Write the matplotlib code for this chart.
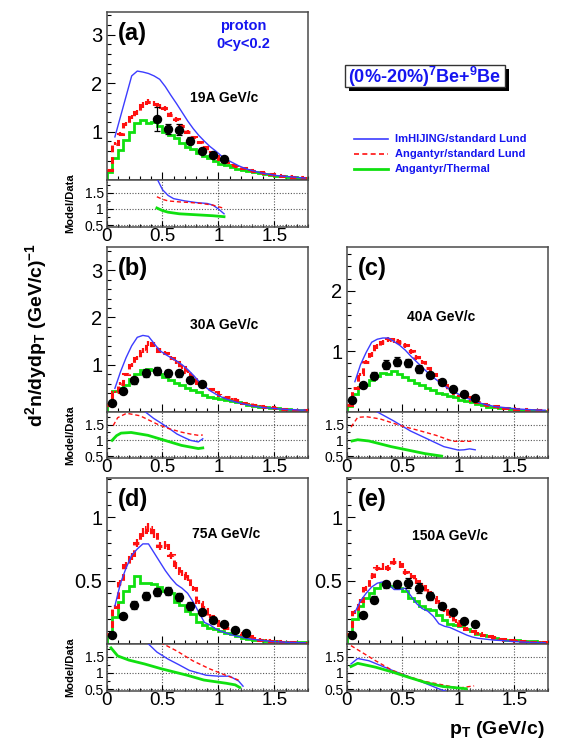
import numpy as np
import matplotlib
matplotlib.use('Agg')
import matplotlib.pyplot as plt
from matplotlib.lines import Line2D
from matplotlib.patches import Rectangle
from matplotlib.ticker import MultipleLocator, FixedLocator, FixedFormatter

plt.rcParams['font.family'] = ['Liberation Sans', 'DejaVu Sans']
plt.rcParams['mathtext.fontset'] = 'custom'
plt.rcParams['mathtext.rm'] = 'Liberation Sans'
plt.rcParams['mathtext.bf'] = 'Liberation Sans:bold'
plt.rcParams['mathtext.it'] = 'Liberation Sans:italic'

# ---------------- data ----------------
bin_edges = np.round(np.arange(0, 1.8001, 0.05), 3)          # model histogram bins
bin_centers = (bin_edges[:-1] + bin_edges[1:]) / 2
blue_x = bin_centers[1:]                                      # ImHIJING curve points

# (a) 19A GeV/c
a_data_x = [0.45, 0.55, 0.65, 0.75, 0.85, 0.95, 1.05]
a_data_y = [1.26, 1.06, 1.04, 0.81, 0.60, 0.52, 0.43]
a_data_e = [0.25, 0.10, 0.12, 0.07, 0.05, 0.04, 0.04]
a_green = [0.17, 0.45, 0.62, 0.83, 1.00, 1.17, 1.23, 1.17, 1.20, 1.12, 1.00, 0.93, 0.86, 0.77, 0.69, 0.63,
           0.55, 0.50, 0.45, 0.40, 0.34, 0.31, 0.26, 0.22, 0.20, 0.18, 0.16, 0.14, 0.12, 0.10, 0.09, 0.08,
           0.07, 0.06, 0.05, 0.045]
a_red = [0.20, 0.75, 0.95, 1.15, 1.30, 1.40, 1.55, 1.62, 1.58, 1.52, 1.48, 1.35, 1.25, 1.12, 1.00, 0.88,
         0.78, 0.68, 0.58, 0.50, 0.44, 0.37, 0.32, 0.28, 0.24, 0.21, 0.18, 0.16, 0.14, 0.12, 0.10, 0.09,
         0.08, 0.07, 0.06, 0.05]
a_blue = [0.89, 1.31, 1.73, 2.15, 2.25, 2.23, 2.20, 2.15, 2.08, 1.93, 1.75, 1.58, 1.40, 1.22, 1.06, 0.92,
          0.80, 0.69, 0.60, 0.50, 0.42, 0.36, 0.30, 0.25, 0.21, 0.18, 0.15, 0.13, 0.11, 0.09, 0.08, 0.07,
          0.06, 0.05, 0.04]
a_rb_x = [0.45, 0.50, 0.55, 0.60, 0.70, 0.80, 0.90, 0.95, 1.00, 1.05]
a_rb_y = [1.95, 1.60, 1.42, 1.32, 1.25, 1.20, 1.17, 1.12, 1.00, 0.85]
a_rr_x = [0.45, 0.50, 0.55, 0.65, 0.75, 0.85, 0.95, 1.05]
a_rr_y = [1.38, 1.30, 1.25, 1.22, 1.20, 1.17, 1.12, 1.02]
a_rg_x = [0.45, 0.50, 0.55, 0.65, 0.75, 0.85, 0.95, 1.05]
a_rg_y = [1.03, 0.95, 0.90, 0.85, 0.83, 0.81, 0.79, 0.76]

# (b) 30A GeV/c
b_data_x = [0.05, 0.15, 0.25, 0.35, 0.45, 0.55, 0.65, 0.75, 0.85]
b_data_y = [0.20, 0.45, 0.67, 0.82, 0.87, 0.82, 0.82, 0.68, 0.59]
b_data_e = [0.04, 0.05, 0.07, 0.09, 0.08, 0.07, 0.07, 0.05, 0.05]
b_green = [0.15, 0.45, 0.50, 0.58, 0.70, 0.80, 0.88, 0.90, 0.88, 0.80, 0.74, 0.68, 0.62, 0.57, 0.50, 0.46,
           0.42, 0.36, 0.32, 0.30, 0.28, 0.26, 0.24, 0.21, 0.18, 0.15, 0.13, 0.11, 0.10, 0.09, 0.08, 0.07,
           0.06, 0.05, 0.04, 0.04]
b_red = [0.15, 0.42, 0.60, 0.80, 1.00, 1.15, 1.30, 1.45, 1.42, 1.30, 1.25, 1.15, 1.05, 0.95, 0.85, 0.75,
         0.62, 0.55, 0.48, 0.42, 0.37, 0.32, 0.28, 0.25, 0.20, 0.18, 0.15, 0.13, 0.11, 0.10, 0.08, 0.07,
         0.06, 0.05, 0.04, 0.04]
b_blue = [0.50, 0.85, 1.15, 1.40, 1.58, 1.62, 1.60, 1.45, 1.30, 1.22, 1.15, 1.08, 1.00, 0.90, 0.78, 0.65,
          0.55, 0.45, 0.38, 0.32, 0.27, 0.23, 0.20, 0.17, 0.14, 0.12, 0.10, 0.09, 0.08, 0.07, 0.06, 0.05,
          0.05, 0.04, 0.04]
b_rb_x = [0.33, 0.42, 0.50, 0.57, 0.63, 0.70, 0.75, 0.82, 0.86]
b_rb_y = [1.95, 1.70, 1.52, 1.35, 1.20, 1.08, 1.00, 0.95, 1.05]
b_rr_x = [0.06, 0.10, 0.18, 0.30, 0.45, 0.55, 0.67, 0.75, 0.82, 0.86]
b_rr_y = [1.47, 1.72, 1.86, 1.78, 1.52, 1.38, 1.26, 1.20, 1.16, 1.17]
b_rg_x = [0.05, 0.09, 0.13, 0.22, 0.37, 0.52, 0.67, 0.82, 0.86]
b_rg_y = [1.00, 1.15, 1.23, 1.25, 1.16, 1.00, 0.84, 0.74, 0.76]

# (c) 40A GeV/c
c_data_x = [0.05, 0.15, 0.25, 0.35, 0.45, 0.55, 0.65, 0.75, 0.85, 0.95, 1.05, 1.15]
c_data_y = [0.19, 0.44, 0.60, 0.78, 0.83, 0.81, 0.71, 0.61, 0.49, 0.38, 0.29, 0.23]
c_data_e = [0.04, 0.04, 0.06, 0.07, 0.07, 0.06, 0.06, 0.05, 0.04, 0.03, 0.03, 0.03]
c_green = [0.10, 0.30, 0.42, 0.45, 0.52, 0.60, 0.65, 0.63, 0.67, 0.63, 0.57, 0.52, 0.48, 0.45, 0.40, 0.36,
           0.32, 0.30, 0.27, 0.24, 0.20, 0.18, 0.16, 0.13, 0.11, 0.09, 0.08, 0.07, 0.06, 0.05, 0.04, 0.035,
           0.03, 0.025, 0.02, 0.02]
c_red = [0.12, 0.40, 0.62, 0.82, 0.95, 1.08, 1.15, 1.20, 1.18, 1.15, 1.10, 1.00, 0.90, 0.82, 0.72, 0.62,
         0.52, 0.45, 0.38, 0.32, 0.28, 0.24, 0.20, 0.17, 0.14, 0.12, 0.10, 0.08, 0.07, 0.06, 0.05, 0.045,
         0.04, 0.035, 0.03, 0.03]
c_blue = [0.50, 0.78, 0.98, 1.15, 1.20, 1.22, 1.22, 1.16, 1.10, 1.02, 0.92, 0.83, 0.74, 0.65, 0.57, 0.50,
          0.43, 0.37, 0.32, 0.27, 0.23, 0.19, 0.16, 0.13, 0.11, 0.09, 0.08, 0.07, 0.06, 0.05, 0.045, 0.04,
          0.035, 0.03, 0.03]
c_rb_x = [0.25, 0.42, 0.57, 0.72, 0.87, 1.00, 1.05, 1.10, 1.15]
c_rb_y = [1.95, 1.62, 1.30, 1.05, 0.80, 0.69, 0.70, 0.73, 0.70]
c_rr_x = [0.04, 0.10, 0.18, 0.30, 0.50, 0.65, 0.80, 0.95, 1.13]
c_rr_y = [1.42, 1.73, 1.75, 1.68, 1.45, 1.31, 1.16, 0.97, 0.97]
c_rg_x = [0.05, 0.10, 0.20, 0.40, 0.55, 0.70, 0.85]
c_rg_y = [0.98, 1.02, 0.98, 0.80, 0.69, 0.58, 0.50]

# (d) 75A GeV/c
d_data_x = [0.05, 0.15, 0.25, 0.35, 0.45, 0.55, 0.65, 0.75, 0.85, 0.95, 1.05, 1.15, 1.25]
d_data_y = [0.07, 0.22, 0.31, 0.38, 0.41, 0.42, 0.37, 0.30, 0.25, 0.19, 0.155, 0.11, 0.085]
d_data_e = [0.015, 0.02, 0.03, 0.03, 0.03, 0.03, 0.03, 0.03, 0.02, 0.02, 0.015, 0.015, 0.015]
d_green = [0.06, 0.21, 0.33, 0.42, 0.46, 0.54, 0.48, 0.48, 0.47, 0.45, 0.42, 0.40, 0.33, 0.31, 0.26, 0.24,
           0.17, 0.15, 0.13, 0.12, 0.10, 0.09, 0.075, 0.065, 0.05, 0.04, 0.035, 0.03, 0.025, 0.022, 0.02,
           0.018, 0.016, 0.015, 0.013, 0.012]
d_red = [0.08, 0.29, 0.48, 0.62, 0.69, 0.80, 0.88, 0.92, 0.87, 0.77, 0.78, 0.70, 0.62, 0.56, 0.52, 0.44,
         0.33, 0.28, 0.22, 0.18, 0.15, 0.13, 0.11, 0.09, 0.075, 0.06, 0.045, 0.035, 0.03, 0.025, 0.02,
         0.018, 0.015, 0.012, 0.01, 0.01]
d_blue = [0.30, 0.48, 0.60, 0.70, 0.75, 0.79, 0.79, 0.72, 0.65, 0.58, 0.52, 0.47, 0.44, 0.40, 0.33, 0.25,
          0.17, 0.15, 0.12, 0.10, 0.085, 0.07, 0.06, 0.05, 0.04, 0.035, 0.03, 0.025, 0.02, 0.018, 0.015,
          0.013, 0.012, 0.01, 0.01]
d_rb_x = [0.36, 0.45, 0.55, 0.65, 0.74, 0.89, 1.00, 1.10, 1.18, 1.22]
d_rb_y = [1.95, 1.65, 1.43, 1.25, 1.08, 0.93, 0.90, 0.90, 0.75, 0.59]
d_rr_x = [0.48, 0.63, 0.77, 0.92, 1.05, 1.18]
d_rr_y = [1.95, 1.68, 1.38, 1.13, 0.95, 0.78]
d_rg_x = [0.04, 0.10, 0.20, 0.34, 0.49, 0.72, 0.87, 1.07, 1.15, 1.19]
d_rg_y = [1.78, 1.53, 1.40, 1.28, 1.13, 0.93, 0.78, 0.68, 0.63, 0.55]

# (e) 150A GeV/c
e_data_x = [0.05, 0.15, 0.25, 0.35, 0.45, 0.55, 0.65, 0.75, 0.85, 0.95, 1.05, 1.15]
e_data_y = [0.07, 0.23, 0.35, 0.47, 0.47, 0.48, 0.44, 0.38, 0.30, 0.25, 0.18, 0.155]
e_data_e = [0.015, 0.02, 0.03, 0.03, 0.03, 0.04, 0.04, 0.03, 0.02, 0.015, 0.015, 0.015]
e_green = [0.08, 0.20, 0.30, 0.36, 0.40, 0.44, 0.48, 0.46, 0.46, 0.44, 0.42, 0.36, 0.34, 0.30, 0.28, 0.27,
           0.23, 0.19, 0.16, 0.15, 0.14, 0.12, 0.10, 0.08, 0.07, 0.06, 0.05, 0.04, 0.035, 0.03, 0.028,
           0.025, 0.022, 0.02, 0.018, 0.015]
e_red = [0.08, 0.25, 0.34, 0.44, 0.54, 0.60, 0.61, 0.60, 0.65, 0.63, 0.57, 0.54, 0.50, 0.46, 0.41, 0.37,
         0.33, 0.27, 0.22, 0.18, 0.15, 0.12, 0.10, 0.085, 0.07, 0.06, 0.05, 0.04, 0.035, 0.03, 0.025,
         0.02, 0.018, 0.016, 0.014, 0.012]
e_blue = [0.25, 0.34, 0.40, 0.45, 0.48, 0.49, 0.47, 0.43, 0.43, 0.44, 0.38, 0.32, 0.28, 0.26, 0.22, 0.16,
          0.14, 0.13, 0.11, 0.09, 0.07, 0.055, 0.045, 0.04, 0.035, 0.03, 0.028, 0.025, 0.02, 0.018, 0.015,
          0.013, 0.012, 0.011, 0.01]
e_rb_x = [0.04, 0.10, 0.20, 0.41, 0.56, 0.71, 0.83, 0.90]
e_rb_y = [1.28, 1.45, 1.38, 1.08, 0.88, 0.67, 0.50, 0.42]
e_rr_x = [0.04, 0.26, 0.41, 0.56, 0.71, 0.86, 1.00, 1.14]
e_rr_y = [1.85, 1.38, 1.08, 0.88, 0.73, 0.63, 0.53, 0.60]
e_rg_x = [0.04, 0.10, 0.26, 0.41, 0.56, 0.71, 0.86, 1.07]
e_rg_y = [1.20, 1.30, 1.18, 1.03, 0.86, 0.70, 0.58, 0.51]

panel_labels = ['(a)', '(b)', '(c)', '(d)', '(e)']
energy_labels = ['19A GeV/c', '30A GeV/c', '40A GeV/c', '75A GeV/c', '150A GeV/c']
legend_labels = ['ImHIJING/standard Lund', 'Angantyr/standard Lund', 'Angantyr/Thermal']
xtick_vals = [0, 0.5, 1, 1.5]
xtick_text = ['0', '0.5', '1', '1.5']
ratio_ticks = [0.5, 1, 1.5]
ratio_tick_text = ['0.5', '1', '1.5']

# ---------------- style ----------------
C_BLUE = '#3c3cff'
C_RED = '#ff1010'
C_GREEN = '#10e010'
C_TXT_BLUE = '#1515f0'
FRAME = '#4a4a4a'
RED_ERR_FRAC = 0.03

W, H = 563, 746
fig = plt.figure(figsize=(W / 100, H / 100), dpi=100)


def fx(px):
    return px / W


def fy(py):
    return 1 - py / H


col_x = [106.5, 346.5]
ax_w = 201.5
rows = [(12, 180, 227), (247, 412, 458), (478, 644, 691)]

panels = [
    dict(row=0, col=0, ylim=3.47, yt=[1, 2, 3], ytl=['1', '2', '3'], ymin=0.2,
         dx=a_data_x, dy=a_data_y, de=a_data_e, g=a_green, r=a_red, b=a_blue,
         rb=(a_rb_x, a_rb_y), rr=(a_rr_x, a_rr_y), rg=(a_rg_x, a_rg_y), epos=(0.414, 0.488)),
    dict(row=1, col=0, ylim=3.49, yt=[1, 2, 3], ytl=['1', '2', '3'], ymin=0.2,
         dx=b_data_x, dy=b_data_y, de=b_data_e, g=b_green, r=b_red, b=b_blue,
         rb=(b_rb_x, b_rb_y), rr=(b_rr_x, b_rr_y), rg=(b_rg_x, b_rg_y), epos=(0.414, 0.527)),
    dict(row=1, col=1, ylim=2.72, yt=[1, 2], ytl=['1', '2'], ymin=0.2,
         dx=c_data_x, dy=c_data_y, de=c_data_e, g=c_green, r=c_red, b=c_blue,
         rb=(c_rb_x, c_rb_y), rr=(c_rr_x, c_rr_y), rg=(c_rg_x, c_rg_y), epos=(0.30, 0.576)),
    dict(row=2, col=0, ylim=1.31, yt=[0.5, 1], ytl=['0.5', '1'], ymin=0.1,
         dx=d_data_x, dy=d_data_y, de=d_data_e, g=d_green, r=d_red, b=d_blue,
         rb=(d_rb_x, d_rb_y), rr=(d_rr_x, d_rr_y), rg=(d_rg_x, d_rg_y), epos=(0.424, 0.663)),
    dict(row=2, col=1, ylim=1.31, yt=[0.5, 1], ytl=['0.5', '1'], ymin=0.1,
         dx=e_data_x, dy=e_data_y, de=e_data_e, g=e_green, r=e_red, b=e_blue,
         rb=(e_rb_x, e_rb_y), rr=(e_rr_x, e_rr_y), rg=(e_rg_x, e_rg_y), epos=(0.325, 0.65)),
]


def frame(ax):
    for s in ax.spines.values():
        s.set_color(FRAME)
        s.set_linewidth(1.1)
    ax.tick_params(which='both', direction='in', top=False, right=False, colors='black')
    ax.tick_params(which='major', length=6, width=0.8)
    ax.tick_params(which='minor', length=3, width=0.8)
    ax.set_xlim(0, 1.8)
    ax.xaxis.set_major_locator(FixedLocator(xtick_vals))
    ax.xaxis.set_minor_locator(MultipleLocator(0.1))


for i, p in enumerate(panels):
    top, mid, bot = rows[p['row']]
    x0 = col_x[p['col']]
    ax = fig.add_axes([fx(x0), fy(mid), ax_w / W, (mid - top) / H])
    rax = fig.add_axes([fx(x0), fy(bot), ax_w / W, (bot - mid) / H])

    # ---- main panel
    frame(ax)
    ax.set_ylim(0, p['ylim'])
    ax.yaxis.set_major_locator(FixedLocator(p['yt']))
    ax.yaxis.set_major_formatter(FixedFormatter(p['ytl']))
    ax.yaxis.set_minor_locator(MultipleLocator(p['ymin']))
    ax.tick_params(axis='y', labelsize=14.5, pad=3)
    ax.tick_params(axis='x', labelbottom=False)

    g = np.array(p['g'])
    r = np.array(p['r'])
    ax.stairs(g, bin_edges, baseline=0, color=C_GREEN, lw=2.0, zorder=2)
    ax.stairs(r, bin_edges, baseline=None, color=C_RED, lw=2.2, ls=(0, (2.2, 1.6)), zorder=3)
    ax.errorbar(bin_centers, r, yerr=r * RED_ERR_FRAC + 0.008, fmt='none',
                ecolor=C_RED, elinewidth=1.6, capsize=0, zorder=3)
    ax.plot(blue_x, p['b'], color=C_BLUE, lw=1.0, zorder=4)
    ax.errorbar(p['dx'], p['dy'], yerr=p['de'], fmt='o', color='black', ms=5.8,
                elinewidth=0.9, capsize=2, capthick=0.9, zorder=5)

    ax.text(0.13, 0.87, panel_labels[i], transform=ax.transAxes, fontsize=17,
            fontweight='bold', ha='center', va='center')
    ax.text(p['epos'][0], p['epos'][1], energy_labels[i], transform=ax.transAxes,
            fontsize=10, fontweight='bold', ha='left', va='center')

    # ---- ratio panel
    frame(rax)
    rax.set_ylim(0.44, 1.9)
    rax.yaxis.set_major_locator(FixedLocator(ratio_ticks))
    rax.yaxis.set_major_formatter(FixedFormatter(ratio_tick_text))
    rax.yaxis.set_minor_locator(MultipleLocator(0.25))
    rax.xaxis.set_major_formatter(FixedFormatter(xtick_text))
    rax.tick_params(axis='y', labelsize=10, pad=2)
    rax.tick_params(axis='x', labelsize=13.5, pad=1)
    rax.tick_params(which='major', length=4)
    rax.tick_params(which='minor', length=2)
    rax.grid(True, which='major', ls=(0, (1, 1.5)), color='#555555', lw=0.8)
    rax.plot(*p['rb'], color=C_BLUE, lw=1.0, zorder=3)
    rax.plot(*p['rr'], color=C_RED, lw=1.0, ls=(0, (3, 2)), zorder=3)
    rax.plot(*p['rg'], color=C_GREEN, lw=2.0, zorder=3)

    if p['col'] == 0:
        fig.text(fx(70), fy((mid + bot) / 2), 'Model/Data', rotation=90, fontsize=8,
                 fontweight='bold', ha='center', va='center')

# annotations in panel (a)
fig.text(fx(243), fy(26), 'proton', color=C_TXT_BLUE, fontsize=10.5, fontweight='bold',
         ha='center', va='center')
fig.text(fx(243), fy(44), '0<y<0.2', color=C_TXT_BLUE, fontsize=10.5, fontweight='bold',
         ha='center', va='center')

# system box with shadow
bx0, by0, bx1, by1 = 345, 65, 505, 87
fig.add_artist(Rectangle((fx(bx0 + 4), fy(by1 + 4)), (bx1 - bx0) / W, (by1 - by0) / H,
                         transform=fig.transFigure, facecolor='black', edgecolor='none'))
fig.add_artist(Rectangle((fx(bx0), fy(by1)), (bx1 - bx0) / W, (by1 - by0) / H,
                         transform=fig.transFigure, facecolor='white', edgecolor='#333333', lw=1))
fig.text(fx((bx0 + bx1) / 2), fy((by0 + by1) / 2 + 1),
         r'(0%-20%)$^{\mathbf{7}}$Be+$^{\mathbf{9}}$Be', color=C_TXT_BLUE, fontsize=13,
         fontweight='bold', ha='center', va='center')

# legend
leg_y = [139, 154, 169]
leg_style = [dict(color=C_BLUE, lw=1.2, ls='-'), dict(color=C_RED, lw=1.2, ls=(0, (3, 2))),
             dict(color=C_GREEN, lw=2.0, ls='-')]
for yy, lab, st in zip(leg_y, legend_labels, leg_style):
    fig.add_artist(Line2D([fx(354), fx(388)], [fy(yy), fy(yy)], transform=fig.transFigure, **st))
    fig.text(fx(395), fy(yy), lab, color=C_TXT_BLUE, fontsize=8, fontweight='bold',
             ha='left', va='center')

# axis titles
fig.text(fx(36), fy(335), r'$\mathbf{d^{2}n/dydp_{T}\ (GeV/c)^{-1}}$', rotation=90,
         fontsize=14, ha='center', va='center')
fig.text(fx(545), fy(730), r'$\mathbf{p_{T}\ (GeV/c)}$', fontsize=14, ha='right', va='center')

fig.savefig('out.png', dpi=100)
